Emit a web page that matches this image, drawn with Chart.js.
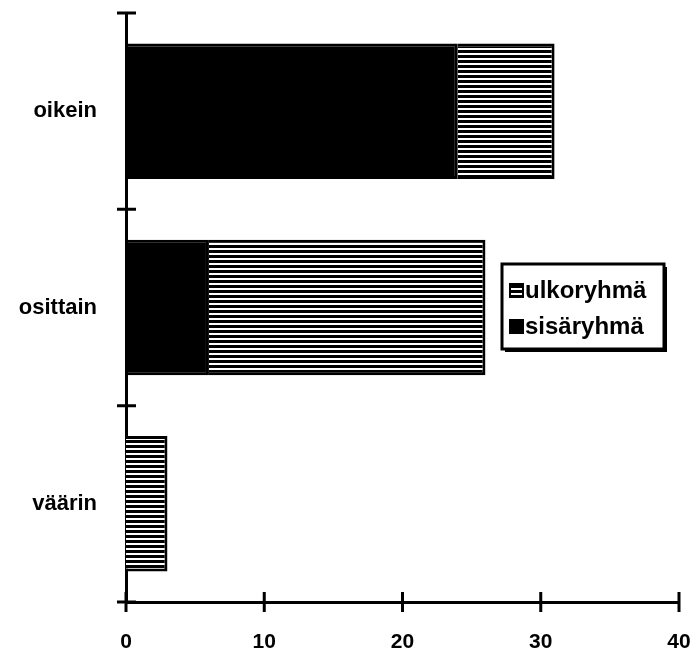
<!DOCTYPE html>
<html>
<head>
<meta charset="utf-8">
<script src="https://cdn.jsdelivr.net/npm/chart.js@4/dist/chart.umd.min.js"></script>
<style>
  html, body { margin: 0; padding: 0; background: #fff; }
  #wrap { width: 693px; height: 657px; }
</style>
</head>
<body>
<div id="wrap"><canvas id="vastausChart" width="693" height="657"></canvas></div>
<script>
const categories = ['oikein', 'osittain', 'väärin'];
const sisaryhma = [24, 6, 0];
const ulkoryhma = [7, 20, 3];
const xTicks = [0, 10, 20, 30, 40];
const legendLabels = ['ulkoryhmä', 'sisäryhmä'];

const FONT = "'Liberation Sans', Arial, Helvetica, sans-serif";

// raidoitettu kuvio (vaakaraidat)
function stripes() {
  const c = document.createElement('canvas');
  c.width = 8; c.height = 5;
  const g = c.getContext('2d');
  g.fillStyle = '#000';
  g.fillRect(0, 0, 8, 5);
  g.fillStyle = '#fff';
  g.fillRect(0, 3, 8, 2);
  return g.createPattern(c, 'repeat');
}
const stripePattern = stripes();

// akselin ristikkäiset tikit
const axisTicks = {
  id: 'axisTicks',
  afterDraw(chart) {
    const ctx = chart.ctx;
    const x = chart.scales.x, y = chart.scales.y;
    const area = chart.chartArea;
    ctx.save();
    ctx.strokeStyle = '#000';
    ctx.lineWidth = 3;
    ctx.beginPath();
    xTicks.forEach(v => {
      const px = x.getPixelForValue(v);
      ctx.moveTo(px, area.bottom - 10);
      ctx.lineTo(px, area.bottom + 10);
    });
    const bounds = [area.top];
    for (let i = 1; i < categories.length; i++) {
      bounds.push((y.getPixelForValue(i - 1) + y.getPixelForValue(i)) / 2);
    }
    bounds.push(area.bottom);
    bounds.forEach(py => {
      ctx.moveTo(area.left - 9, py);
      ctx.lineTo(area.left + 10, py);
    });
    ctx.stroke();
    ctx.restore();
  }
};

// selite kaavion päälle
const boxLegend = {
  id: 'boxLegend',
  afterDraw(chart) {
    const ctx = chart.ctx;
    const bx = 502, by = 264, bw = 162, bh = 85;
    ctx.save();
    ctx.fillStyle = '#000';
    ctx.fillRect(bx + 3, by + 3, bw, bh);
    ctx.fillStyle = '#fff';
    ctx.fillRect(bx, by, bw, bh);
    ctx.strokeStyle = '#000';
    ctx.lineWidth = 3;
    ctx.strokeRect(bx, by, bw, bh);
    ctx.font = 'bold 24px ' + FONT;
    ctx.textBaseline = 'middle';
    const fills = [stripePattern, '#000'];
    legendLabels.forEach((lab, i) => {
      const cy = by + 26 + i * 36;
      ctx.fillStyle = fills[i];
      ctx.fillRect(510, cy - 6, 13, 13);
      ctx.lineWidth = 2;
      ctx.strokeRect(510, cy - 6, 13, 13);
      ctx.fillStyle = '#000';
      ctx.fillText(lab, 525, cy + 1);
    });
    ctx.restore();
  }
};

function noPad(s) {
  s.paddingTop = 0; s.paddingBottom = 0;
  s.paddingLeft = 0; s.paddingRight = 0;
}

const ctx = document.getElementById('vastausChart').getContext('2d');
const chart = new Chart(ctx, {
  type: 'bar',
  data: {
    labels: categories,
    datasets: [
      {
        label: legendLabels[1],
        data: sisaryhma,
        backgroundColor: '#000',
        borderColor: '#000',
        borderWidth: 3,
        barPercentage: 0.69,
        categoryPercentage: 1
      },
      {
        label: legendLabels[0],
        data: ulkoryhma,
        backgroundColor: stripePattern,
        borderColor: '#000',
        borderWidth: 3,
        barPercentage: 0.69,
        categoryPercentage: 1
      }
    ]
  },
  options: {
    indexAxis: 'y',
    responsive: false,
    maintainAspectRatio: false,
    animation: false,
    layout: { padding: { top: 13, right: 14, bottom: 0, left: 0 } },
    plugins: {
      legend: { display: false },
      tooltip: { enabled: false }
    },
    scales: {
      x: {
        stacked: true,
        min: 0,
        max: 40,
        afterBuildTicks: s => { s.ticks = xTicks.map(v => ({ value: v })); },
        grid: { display: false, drawTicks: false },
        border: { display: true, color: '#000', width: 3 },
        ticks: { color: '#000', padding: 28, font: { family: FONT, size: 21, weight: 'bold' } },
        afterFit: s => { s.height = 55; noPad(s); }
      },
      y: {
        stacked: true,
        grid: { display: false, drawTicks: false },
        border: { display: true, color: '#000', width: 3 },
        ticks: { color: '#000', padding: 29, font: { family: FONT, size: 22, weight: 'bold' } },
        afterFit: s => { s.width = 126; noPad(s); }
      }
    }
  },
  plugins: [axisTicks, boxLegend]
});
</script>
</body>
</html>
